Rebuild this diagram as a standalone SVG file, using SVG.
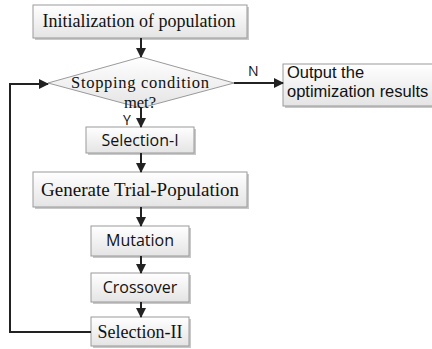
<svg xmlns="http://www.w3.org/2000/svg" width="432" height="349" viewBox="0 0 432 349">
<defs>
<linearGradient id="g" x1="0" y1="0" x2="0" y2="1">
<stop offset="0" stop-color="#ffffff"/>
<stop offset="1" stop-color="#e4e4e4"/>
</linearGradient>
<marker id="ah" viewBox="0 0 10 10" refX="9" refY="5" markerWidth="10" markerHeight="10" markerUnits="userSpaceOnUse" orient="auto">
<path d="M0,0 L10,5 L0,10 z" fill="#222"/>
</marker>
</defs>
<style>
.box{fill:url(#g);stroke:#9a9a9a;stroke-width:1}
.sh{fill:#c8c8c8}
.serif{font-family:"Liberation Serif","Times New Roman",serif;fill:#111}
.sans{font-family:"Open Sans","Liberation Sans",sans-serif;fill:#111}
.sans2{font-family:"Liberation Sans",Arial,sans-serif;fill:#111}
.ln{fill:none;stroke:#222;stroke-width:2}
</style>
<rect width="432" height="349" fill="#fff"/>
<g id="init">
<rect class="sh" x="35" y="7" width="214" height="33"/>
<rect class="box" x="33" y="5" width="214" height="33"/>
<text class="serif" x="139" y="27" font-size="18" text-anchor="middle">Initialization of population</text>
</g>
<g id="decision">
<polygon points="141,57 234,83 141,108 48,83" fill="url(#g)" stroke="#9a9a9a" stroke-width="1"/>
<text class="serif" x="140" y="88" font-size="16.5" text-anchor="middle" textLength="138" lengthAdjust="spacing">Stopping condition</text>
<text class="serif" x="140" y="107.5" font-size="16.5" text-anchor="middle">met?</text>
</g>
<g id="output">
<rect class="sh" x="285" y="66" width="160" height="42"/>
<rect class="box" x="283" y="64" width="160" height="42"/>
<text class="sans2" x="287" y="78" font-size="16.5">Output the</text>
<text class="sans2" x="287" y="97" font-size="16.5">optimization results</text>
</g>
<g id="sel1">
<rect class="sh" x="88" y="129" width="108" height="26"/>
<rect class="box" x="86" y="127" width="108" height="26"/>
<text class="sans" x="140" y="146" font-size="16" text-anchor="middle">Selection-I</text>
</g>
<g id="gen">
<rect class="sh" x="35" y="174" width="214" height="35"/>
<rect class="box" x="33" y="172" width="214" height="35"/>
<text class="serif" x="140" y="196" font-size="19" text-anchor="middle">Generate Trial-Population</text>
</g>
<g id="mut">
<rect class="sh" x="93" y="228" width="98" height="30"/>
<rect class="box" x="91" y="226" width="98" height="30"/>
<text class="sans" x="140" y="246" font-size="16" text-anchor="middle">Mutation</text>
</g>
<g id="cross">
<rect class="sh" x="93" y="275" width="98" height="29"/>
<rect class="box" x="91" y="273" width="98" height="29"/>
<text class="sans" x="140" y="293" font-size="16" text-anchor="middle">Crossover</text>
</g>
<g id="sel2">
<rect class="sh" x="93" y="319" width="98" height="29"/>
<rect class="box" x="91" y="317" width="98" height="29"/>
<text class="serif" x="140" y="338" font-size="18" text-anchor="middle">Selection-II</text>
</g>
<g id="connectors">
<line class="ln" x1="141" y1="38" x2="141" y2="57" marker-end="url(#ah)"/>
<line class="ln" x1="234" y1="83" x2="283" y2="83" marker-end="url(#ah)"/>
<line class="ln" x1="141" y1="108" x2="141" y2="127" marker-end="url(#ah)"/>
<line class="ln" x1="141" y1="153" x2="141" y2="172" marker-end="url(#ah)"/>
<line class="ln" x1="141" y1="207" x2="141" y2="226" marker-end="url(#ah)"/>
<line class="ln" x1="141" y1="256" x2="141" y2="273" marker-end="url(#ah)"/>
<line class="ln" x1="141" y1="302" x2="141" y2="317" marker-end="url(#ah)"/>
<polyline class="ln" points="91,332 10,332 10,84 48,84" marker-end="url(#ah)"/>
<text class="sans" x="248" y="76" font-size="14">N</text>
<text class="sans" x="123" y="125" font-size="14">Y</text>
</g>
</svg>
